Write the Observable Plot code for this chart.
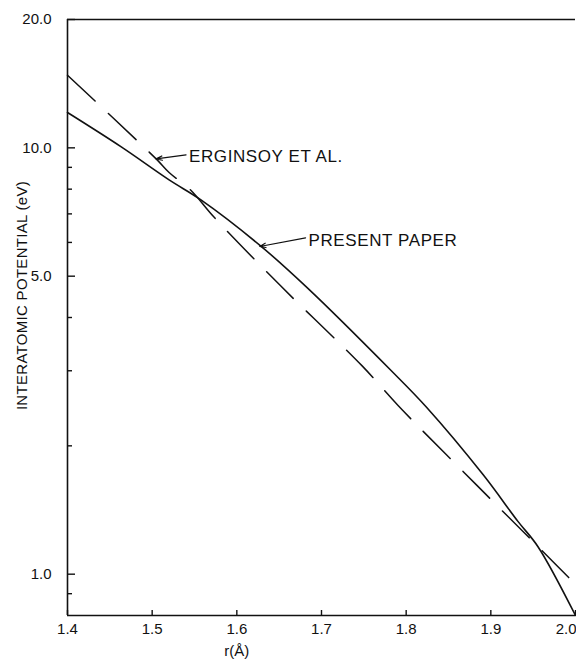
<!DOCTYPE html>
<html><head><meta charset="utf-8">
<script src="https://cdn.jsdelivr.net/npm/d3@7"></script>
<script src="https://cdn.jsdelivr.net/npm/@observablehq/plot@0.6"></script>
<style>body{margin:0;background:#fff;overflow:hidden} svg{display:block}</style>
</head><body><div id="chart"></div>
<script>
// Present paper (solid)
const presentR = [1.40, 1.4635, 1.52, 1.5576, 1.628, 1.683, 1.781, 1.8243, 1.891, 1.932, 1.9557, 2.00];
const presentV = [12.1, 10.05, 8.41, 7.55, 5.89, 4.70, 3.02, 2.46, 1.71, 1.33, 1.16, 0.80];
// Erginsoy et al. (dashed)
const erginsoyR = [1.40, 1.5047, 1.52, 1.545, 1.573, 1.652, 1.748, 1.791, 1.883, 1.9635, 2.00];
const erginsoyV = [14.8, 9.42, 8.75, 7.98, 6.88, 4.74, 3.08, 2.48, 1.62, 1.12, 0.946];

const xTicks = [1.4, 1.5, 1.6, 1.7, 1.8, 1.9, 2.0];
const yMajor = [1, 5, 10, 20];
const yMinor = [0.9, 2, 3, 4, 6, 7, 8, 9];

const annText = ["ERGINSOY ET AL.", "PRESENT PAPER"];
const annR = [1.5435, 1.6847];
const annV = [9.52, 6.05];
const arrowR1 = [1.540, 1.6812];
const arrowV1 = [9.63, 6.15];
const arrowR2 = [1.5047, 1.627];
const arrowV2 = [9.42, 5.87];

const xLabel = "r(Å)";
const xLabelR = [1.6];
const yLabel = "INTERATOMIC POTENTIAL (eV)";

const present = presentR.map((r, i) => ({r, v: presentV[i]}));
const erginsoy = erginsoyR.map((r, i) => ({r, v: erginsoyV[i]}));
const ann = annText.map((t, i) => ({t, r: annR[i], v: annV[i]}));
const arrows = arrowR1.map((r, i) => ({r1: r, v1: arrowV1[i], r2: arrowR2[i], v2: arrowV2[i]}));

const W = 576, H = 664, mL = 67, mR = 1, mT = 19, mB = 49;
const fw = W - mL - mR, fh = H - mT - mB;

const chart = Plot.plot({
  width: W, height: H,
  marginLeft: mL, marginRight: mR, marginTop: mT, marginBottom: mB,
  style: {fontFamily: "'Liberation Sans', Arial, sans-serif", fontSize: "15px", color: "#111", background: "#fff"},
  x: {domain: [1.4, 2.0]},
  y: {type: "log", domain: [0.8, 20]},
  marks: [
    // frame lines (top, bottom, left)
    Plot.ruleY([20], {stroke: "#111", strokeWidth: 1.6}),
    Plot.ruleY([0.8], {stroke: "#111", strokeWidth: 1.6}),
    Plot.ruleX([1.4], {stroke: "#111", strokeWidth: 1.6}),
    // inward ticks
    Plot.ruleX(xTicks, {x: d => d, insetTop: fh - 5, stroke: "#111", strokeWidth: 1.4}),
    Plot.ruleY(yMajor, {y: d => d, insetRight: fw - 8, stroke: "#111", strokeWidth: 1.4}),
    Plot.ruleY(yMinor, {y: d => d, insetRight: fw - 5, stroke: "#111", strokeWidth: 1.4}),
    // tick labels
    Plot.axisX({ticks: xTicks.slice(0, -1), tickSize: 0, tickPadding: 8, tickFormat: d => d.toFixed(1), label: null}),
    Plot.axisX({ticks: xTicks.slice(-1), tickSize: 0, tickPadding: 8, tickFormat: d => d.toFixed(1), label: null, textAnchor: "end", dx: 1}),
    Plot.axisY({ticks: yMajor, tickSize: 0, tickPadding: 16, tickFormat: d => d.toFixed(1), label: null}),
    // curves
    Plot.line(erginsoy, {x: "r", y: "v", curve: "catmull-rom", stroke: "#111", strokeWidth: 1.5, strokeDasharray: "38,18"}),
    Plot.line(present, {x: "r", y: "v", curve: "catmull-rom", stroke: "#111", strokeWidth: 1.6}),
    // annotations
    Plot.arrow(arrows, {x1: "r1", y1: "v1", x2: "r2", y2: "v2", stroke: "#111", strokeWidth: 1.2, headLength: 8, headAngle: 40}),
    Plot.text(ann, {x: "r", y: "v", text: "t", textAnchor: "start", fontSize: 17, fill: "#111"}),
    // axis titles
    Plot.text([xLabel], {x: xLabelR, frameAnchor: "bottom", dy: 40, fontSize: 15, fill: "#111"}),
    Plot.text([yLabel], {frameAnchor: "left", textAnchor: "middle", rotate: -90, dx: -45, dy: -22, fontSize: 15, fill: "#111"})
  ]
});
document.getElementById("chart").appendChild(chart);
d3.select(chart).selectAll("text").filter(function(){ return annText.includes(this.textContent); }).style("letter-spacing", "0.6px");
d3.select(chart).selectAll("text").filter(function(){ return this.textContent === yLabel; }).style("letter-spacing", "0.3px");
</script>
</body></html>
